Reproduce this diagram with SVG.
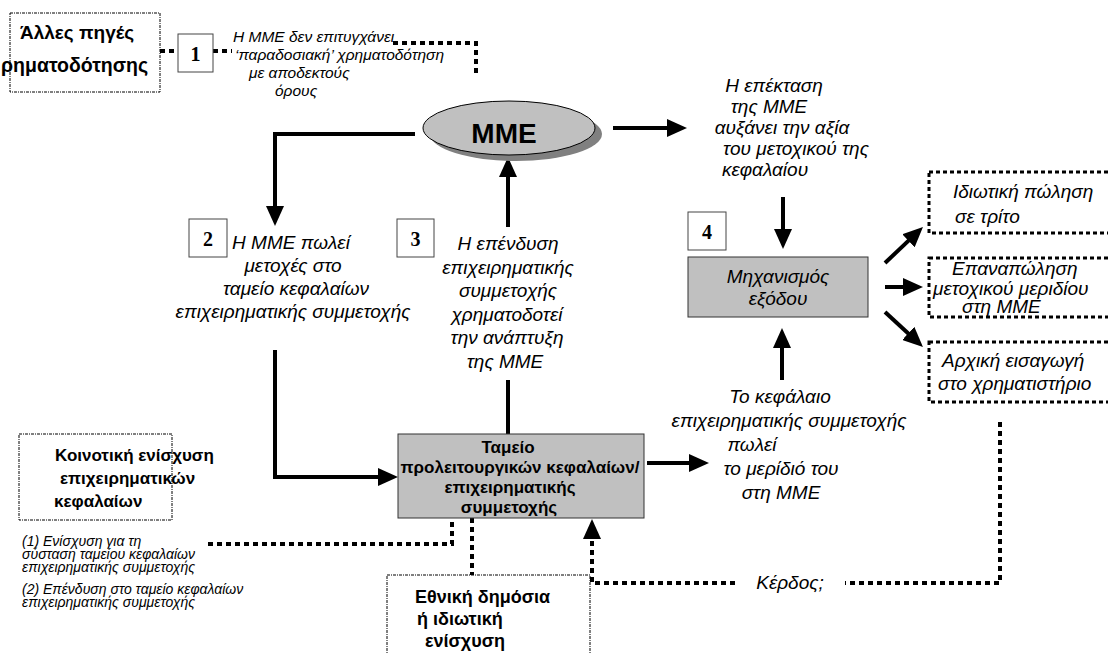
<svg xmlns="http://www.w3.org/2000/svg" width="1108" height="653" viewBox="0 0 1108 653">
<defs>
<marker id="ah" markerUnits="userSpaceOnUse" markerWidth="20" markerHeight="18" viewBox="0 0 20 18" refX="10" refY="9" orient="auto"><path d="M0,0 L20,9 L0,18 z" fill="#000"/></marker>
<style>
.it{font-family:"Liberation Sans",Arial,sans-serif;font-style:italic;font-size:19px;fill:#000}
.sm{font-size:15.5px}
.nt{font-size:14px}
.b{font-family:"Liberation Sans",Arial,sans-serif;font-weight:bold;fill:#000}
.mid{text-anchor:middle}
.num{font-family:"Liberation Serif","Times New Roman",serif;font-weight:bold;font-size:20px;text-anchor:middle;fill:#000}
.thin{fill:#fff;stroke:#000;stroke-width:1;stroke-dasharray:3 1 1 1}
.dot{fill:none;stroke:#000;stroke-width:4;stroke-dasharray:5 4}
.dbox{fill:#fff;stroke:#000;stroke-width:3;stroke-dasharray:4 3}
.arr{fill:none;stroke:#000;stroke-width:4}
.gbox{fill:#c0c0c0;stroke:#333;stroke-width:1}
.nbox{fill:#fff;stroke:#444;stroke-width:1}
</style>
</defs>
<rect width="1108" height="653" fill="#fff"/>

<g id="connectors">
  <path class="dot" d="M160,51 H178 M213,51 H232"/>
  <path class="dot" d="M393,43 H476 V77"/>
  <path class="arr" d="M415,134 H275 V216" marker-end="url(#ah)"/>
  <path class="arr" d="M613,128 H677" marker-end="url(#ah)"/>
  <path class="arr" d="M508,227 V167" marker-end="url(#ah)"/>
  <path class="arr" d="M508,380 V434"/>
  <path class="arr" d="M783,197 V239" marker-end="url(#ah)"/>
  <path class="arr" d="M782,380 V338" marker-end="url(#ah)"/>
  <path class="arr" d="M885,263 L915.7,233.9" marker-end="url(#ah)"/>
  <path class="arr" d="M885,287 H913" marker-end="url(#ah)"/>
  <path class="arr" d="M885,312 L915.6,340.2" marker-end="url(#ah)"/>
  <path class="arr" d="M275,350 V477 H388" marker-end="url(#ah)"/>
  <path class="arr" d="M647,463 H699" marker-end="url(#ah)"/>
  <path class="dot" d="M1000,422 V583 H845"/>
  <path class="dot" d="M735,583 H592 V529" marker-end="url(#ah)"/>
  <path class="dot" d="M208,544 H452 V518"/>
  <path class="dot" d="M472,518 V575"/>
</g>

<g id="other-sources">
  <rect class="thin" x="10" y="13" width="150" height="79"/>
  <text class="b" x="20" y="39" font-size="19">Άλλες πηγές</text>
  <text class="b" x="1" y="72" font-size="19.5">ρηματοδότησης</text>
</g>

<g id="step1">
  <rect class="nbox" x="178" y="34" width="35" height="38"/>
  <text class="num" x="195.5" y="61">1</text>
  <text class="it sm" x="233" y="42">Η ΜΜΕ δεν επιτυγχάνει</text>
  <text class="it sm" x="235" y="60">‘παραδοσιακή’ χρηματοδότηση</text>
  <text class="it sm" x="249" y="78">με αποδεκτούς</text>
  <text class="it sm" x="275" y="96">όρους</text>
</g>

<g id="mme">
  <ellipse cx="516" cy="134" rx="86" ry="27" fill="#808080"/>
  <ellipse cx="509" cy="128" rx="86" ry="27" fill="#c0c0c0" stroke="#000" stroke-width="1"/>
  <text class="b mid" x="504" y="143" font-size="28">ΜΜΕ</text>
</g>

<g id="step2">
  <rect class="nbox" x="189" y="219" width="38" height="38"/>
  <text class="num" x="208" y="246">2</text>
  <text class="it mid" x="291" y="249">Η ΜΜΕ πωλεί</text>
  <text class="it mid" x="293" y="272">μετοχές στο</text>
  <text class="it mid" x="296" y="295">ταμείο κεφαλαίων</text>
  <text class="it mid" x="293" y="318">επιχειρηματικής συμμετοχής</text>
</g>

<g id="step3">
  <rect class="nbox" x="397" y="219" width="37" height="38"/>
  <text class="num" x="415.5" y="246">3</text>
  <text class="it mid" x="508" y="250">Η επένδυση</text>
  <text class="it mid" x="508" y="274">επιχειρηματικής</text>
  <text class="it mid" x="508" y="297">συμμετοχής</text>
  <text class="it mid" x="507" y="321">χρηματοδοτεί</text>
  <text class="it mid" x="507" y="344">την ανάπτυξη</text>
  <text class="it mid" x="505" y="368">της ΜΜΕ</text>
</g>

<g id="expansion">
  <text class="it mid" x="774" y="92">Η επέκταση</text>
  <text class="it mid" x="769" y="113">της ΜΜΕ</text>
  <text class="it mid" x="782" y="134">αυξάνει την αξία</text>
  <text class="it mid" x="796" y="155">του μετοχικού της</text>
  <text class="it mid" x="765" y="176">κεφαλαίου</text>
</g>

<g id="step4">
  <rect class="nbox" x="688" y="212" width="38" height="38"/>
  <text class="num" x="707" y="239">4</text>
</g>

<g id="exit">
  <rect class="gbox" x="688" y="257" width="180" height="60"/>
  <text class="it mid" x="778" y="283">Μηχανισμός</text>
  <text class="it mid" x="778" y="305">εξόδου</text>
</g>

<g id="private-sale">
  <rect class="dbox" x="929" y="172" width="190" height="61"/>
  <text class="it" x="953" y="198">Ιδιωτική πώληση</text>
  <text class="it" x="955" y="223">σε τρίτο</text>
</g>

<g id="buyback">
  <rect class="dbox" x="929" y="258" width="190" height="59"/>
  <text class="it" x="952" y="275">Επαναπώληση</text>
  <text class="it" x="933" y="295">μετοχικού μεριδίου</text>
  <text class="it" x="962" y="313">στη ΜΜΕ</text>
</g>

<g id="ipo">
  <rect class="dbox" x="929" y="342" width="190" height="60"/>
  <text class="it" x="942" y="367">Αρχική εισαγωγή</text>
  <text class="it" x="938" y="390">στο χρηματιστήριο</text>
</g>

<g id="fund">
  <rect class="gbox" x="398" y="434" width="246" height="84"/>
  <text class="b mid" x="508" y="453" font-size="17">Ταμείο</text>
  <text class="b mid" x="520" y="473" font-size="17">προλειτουργικών κεφαλαίων/</text>
  <text class="b mid" x="510" y="493" font-size="17">επιχειρηματικής</text>
  <text class="b mid" x="509" y="513" font-size="17">συμμετοχής</text>
</g>

<g id="sale-label">
  <text class="it mid" x="780" y="403">Το κεφάλαιο</text>
  <text class="it mid" x="789" y="427">επιχειρηματικής συμμετοχής</text>
  <text class="it mid" x="752" y="451">πωλεί</text>
  <text class="it mid" x="781" y="475">το μερίδιό του</text>
  <text class="it mid" x="781" y="499">στη ΜΜΕ</text>
  <text class="it mid" x="790" y="589">Κέρδος;</text>
</g>

<g id="community">
  <rect class="thin" x="19" y="434" width="153" height="86"/>
  <text class="b" x="55" y="461" font-size="17">Κοινοτική ενίσχυση</text>
  <text class="b" x="60" y="484" font-size="17">επιχειρηματικών</text>
  <text class="b" x="54" y="507" font-size="17">κεφαλαίων</text>
</g>

<g id="notes">
  <text class="it nt" x="22" y="546">(1) Ενίσχυση για τη</text>
  <text class="it nt" x="22" y="559">σύσταση ταμείου κεφαλαίων</text>
  <text class="it nt" x="22" y="572">επιχειρηματικής συμμετοχής</text>
  <text class="it nt" x="22" y="594">(2) Επένδυση στο ταμείο κεφαλαίων</text>
  <text class="it nt" x="22" y="607">επιχειρηματικής συμμετοχής</text>
</g>

<g id="national">
  <rect class="thin" x="387" y="575" width="203" height="90"/>
  <text class="b" x="415" y="603" font-size="18">Εθνική δημόσια</text>
  <text class="b" x="417" y="625" font-size="18">ή ιδιωτική</text>
  <text class="b" x="425" y="647" font-size="18">ενίσχυση</text>
</g>
</svg>
